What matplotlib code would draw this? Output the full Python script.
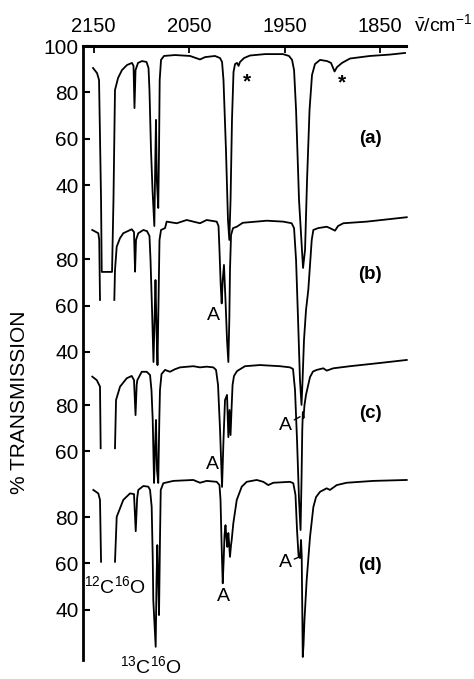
import numpy as np
import matplotlib
matplotlib.use('Agg')
import matplotlib.pyplot as plt

plt.rcParams['font.family'] = ['Liberation Sans', 'DejaVu Sans']
plt.rcParams['mathtext.fontset'] = 'custom'
plt.rcParams['mathtext.rm'] = 'Liberation Sans'
plt.rcParams['mathtext.it'] = 'Liberation Sans:italic'
plt.rcParams['mathtext.bf'] = 'Liberation Sans:bold'
plt.rcParams['mathtext.default'] = 'regular'

nan = float('nan')

# vertical offsets of the stacked traces (in % transmission units)
offsets = {'a': 0.0, 'b': 72.0, 'c': 135.0, 'd': 183.3}

# ---- trace (a) ----
wn_a = [2150.5, 2146.3, 2144.2, 2142.1, 2141.4, 2130.6, 2129.1, 2127.5, 2124.3, 2120.2,
        2114.9, 2109.7, 2108.1, 2107.1, 2106.0, 2103.4, 2099.2, 2094.5, 2092.4, 2091.4,
        2089.8, 2088.2, 2086.3, 2085.3, 2084.6, 2083.7, 2082.2, 2081.4, 2080.7, 2079.3,
        2076.2, 2064.7, 2048.9, 2042.7, 2038.5, 2033.2, 2022.8, 2017.5, 2015.4, 2013.9,
        2011.3, 2009.2, 2007.8, 2006.5, 2005.0, 2003.4, 2001.8, 1999.7, 1998.1, 1996.6,
        1992.4, 1986.1, 1970.4, 1951.6, 1945.3, 1942.1, 1940.0, 1937.9, 1934.8, 1930.6,
        1928.5, 1926.4, 1923.8, 1921.2, 1918.1, 1912.8, 1905.5, 1901.3, 1897.6, 1895.0,
        1889.8, 1881.4, 1860.5, 1839.5, 1823.8]
t_a = [90.5, 88.3, 85.3, 33.5, 2.5, 2.5, 33.5, 81.0, 86.2, 89.6,
       91.8, 92.7, 91.4, 73.2, 89.6, 92.7, 93.5, 93.1, 90.5, 81.0,
       55.1, 37.8, 22.3, 50.8, 68.1, 42.2, 30.1, 55.1, 85.3, 94.0,
       95.7, 96.1, 95.7, 94.8, 94.2, 95.2, 95.7, 94.8, 93.1, 85.3,
       55.1, 24.9, 16.3, 33.5, 68.1, 88.8, 92.2, 92.7, 91.4, 93.1,
       94.8, 95.9, 96.5, 96.5, 95.7, 94.0, 89.6, 72.4, 33.5, 4.2,
       12.0, 42.2, 72.4, 87.5, 92.2, 94.0, 93.5, 92.7, 89.0, 90.9,
       92.7, 94.6, 95.7, 96.3, 97.0]

# ---- trace (b) ----
wn_b = [2151.3, 2145.0, 2144.0, 2143.2, nan, 2128.2, 2127.5, 2125.7, 2122.2, 2118.8,
        2110.0, 2107.6, 2106.5, 2105.5, 2103.1, 2097.8, 2094.0, 2091.4, 2090.3, 2088.7,
        2087.2, 2086.1, 2085.1, 2084.0, 2083.0, 2081.9, 2080.9, 2079.3, 2075.1, 2073.4,
        2062.9, 2052.4, 2038.5, 2031.5, 2021.0, 2019.1, 2018.1, 2016.8, 2015.8, 2014.7,
        2013.4, 2011.8, 2010.2, 2008.8, 2007.8, 2007.1, 2006.0, 2003.9, 2000.0, 1993.7,
        1968.6, 1951.3, 1942.5, 1940.0, 1937.9, 1935.8, 1933.8, 1932.2, 1931.1, 1929.6,
        1927.5, 1925.1, 1923.3, 1921.5, 1919.8, 1914.9, 1905.8, 1902.4, 1897.1, 1894.0,
        1888.4, 1863.9, 1822.0]
t_b = [92.6, 91.2, 88.3, 62.4, nan, 62.4, 75.3, 85.4, 89.1, 91.2,
       92.9, 91.7, 74.6, 88.3, 91.2, 92.6, 92.1, 90.0, 79.6, 58.0,
       35.6, 53.7, 71.0, 49.4, 34.3, 62.4, 88.3, 92.6, 93.4, 96.2,
       95.5, 96.9, 95.5, 96.9, 96.2, 94.3, 84.0, 68.8, 60.9, 71.0,
       77.5, 62.4, 45.1, 35.6, 53.7, 75.3, 90.4, 93.4, 94.0, 95.7,
       96.6, 96.2, 95.5, 93.4, 79.6, 53.7, 27.8, 17.1, 27.8, 45.1,
       58.0, 66.7, 77.5, 88.3, 92.6, 93.4, 94.0, 93.4, 92.3, 94.3,
       95.5, 96.2, 98.1]

# ---- trace (c) ----
wn_c = [2151.3, 2146.6, 2143.2, 2142.5, nan, 2127.5, 2126.4, 2122.2, 2115.2, 2110.0,
        2107.6, 2106.0, 2104.8, 2104.1, 2099.5, 2094.3, 2090.8, 2089.3, 2088.0, 2086.6,
        2085.6, 2084.6, 2083.5, 2082.2, 2081.1, 2080.4, 2078.8, 2075.1, 2069.9, 2064.7,
        2059.4, 2045.5, 2038.5, 2031.5, 2024.5, 2021.7, 2019.6, 2017.5, 2015.4, 2013.9,
        2012.3, 2010.2, 2008.8, 2007.6, 2006.5, 2005.5, 2004.4, 2002.9, 1999.7, 1991.4,
        1975.7, 1954.7, 1944.2, 1941.1, 1939.0, 1936.9, 1934.8, 1933.2, 1932.2, 1931.4,
        1930.8, 1930.1, 1929.1, 1927.5, 1925.4, 1923.3, 1920.2, 1916.3, 1909.4, 1905.8,
        1898.9, 1881.4, 1850.0, 1822.0]
t_c = [92.3, 90.8, 88.0, 61.4, nan, 61.4, 82.2, 88.0, 91.6, 92.6,
       90.8, 75.7, 88.7, 90.8, 94.4, 94.4, 93.0, 86.5, 73.6, 46.4,
       60.6, 73.6, 52.0, 46.4, 73.6, 86.5, 93.4, 95.2, 94.4, 95.5,
       96.3, 96.8, 96.3, 96.6, 96.3, 95.2, 88.7, 69.3, 44.7, 64.9,
       82.2, 84.4, 66.2, 77.9, 67.1, 77.9, 88.7, 92.6, 94.7, 96.8,
       97.3, 96.8, 96.3, 95.6, 86.5, 64.9, 39.1, 26.1, 47.7, 69.3,
       77.0, 74.4, 80.0, 84.4, 88.3, 92.1, 94.5, 95.2, 95.9, 94.9,
       95.9, 96.8, 98.2, 99.5]

# ---- trace (d) ----
wn_d = [2150.2, 2145.0, 2143.2, 2142.1, nan, 2127.5, 2125.7, 2118.8, 2111.8, 2107.6,
        2105.8, 2104.3, 2103.1, 2097.8, 2092.6, 2090.8, 2089.1, 2088.0, 2087.4, 2084.9,
        2084.0, 2083.2, 2082.2, 2081.4, 2080.4, 2079.6, 2076.9, 2066.4, 2045.5, 2038.5,
        2031.5, 2021.0, 2018.1, 2017.0, 2016.0, 2014.7, 2013.7, 2012.8, 2011.8, 2010.9,
        2009.9, 2008.8, 2007.9, 2007.1, 2006.0, 2005.3, 2003.6, 2000.0, 1994.8, 1989.6,
        1979.1, 1972.2, 1967.0, 1961.7, 1944.2, 1940.8, 1938.5, 1936.9, 1935.3, 1933.8,
        1932.7, 1932.0, 1931.4, 1930.9, 1930.1, 1929.1, 1926.8, 1923.3, 1919.8, 1917.0,
        1912.8, 1905.8, 1902.4, 1895.3, 1884.9, 1857.0, 1822.0]
t_d = [91.7, 90.2, 87.4, 60.7, nan, 60.7, 80.1, 87.4, 90.2, 89.9,
       73.9, 88.2, 91.7, 93.4, 93.1, 91.7, 84.5, 62.8, 44.1, 24.0,
       52.8, 67.9, 52.8, 37.7, 70.1, 91.7, 94.6, 95.6, 96.0, 94.8,
       95.6, 95.2, 93.8, 87.4, 70.1, 51.4, 61.4, 72.2, 76.5, 71.4,
       67.1, 73.1, 67.9, 62.8, 67.9, 70.1, 77.3, 87.4, 93.1, 95.2,
       96.0, 95.2, 93.8, 94.8, 95.2, 94.6, 89.5, 74.4, 63.2, 62.3,
       70.1, 63.2, 39.9, 19.6, 24.8, 35.6, 52.8, 71.4, 84.3, 88.6,
       90.9, 92.4, 91.7, 93.8, 94.8, 95.6, 96.0]

traces = {'a': (wn_a, t_a), 'b': (wn_b, t_b), 'c': (wn_c, t_c), 'd': (wn_d, t_d)}

# tick labels of each trace
ticks_per_trace = {'a': [100, 80, 60, 40], 'b': [80, 60, 40], 'c': [80, 60], 'd': [80, 60, 40]}
top_ticks = [2150, 2050, 1950, 1850]

fig = plt.figure(figsize=(4.74, 6.79), dpi=100)
ax = fig.add_axes([83 / 474, 1 - 660 / 679, (405.8 - 83) / 474, (660 - 46) / 679])

for key, (wn, t) in traces.items():
    ax.plot(wn, np.array(t, dtype=float) - offsets[key], color='black', lw=1.3,
            clip_on=False)

ax.set_xlim(2161.0, 1823.0)
ax.set_ylim(-165, 100)

for s in ['bottom', 'right']:
    ax.spines[s].set_visible(False)
ax.spines['left'].set_linewidth(2.0)
ax.spines['top'].set_linewidth(2.2)

ax.xaxis.tick_top()
ax.set_xticks(top_ticks)
ax.set_xticklabels([str(v) for v in top_ticks])
ax.tick_params(axis='x', direction='in', length=5, width=1.3, labelsize=14.5, pad=7,
               top=True, bottom=False, labeltop=True, labelbottom=False)

ypos, ylabs = [], []
for key, vals in ticks_per_trace.items():
    for v in vals:
        ypos.append(v - offsets[key])
        ylabs.append(str(v))
ax.set_yticks(ypos)
ax.set_yticklabels(ylabs)
ax.tick_params(axis='y', direction='in', length=5, width=1.5, labelsize=15, pad=3)

fig.text(20 / 474, 1 - 402 / 679, '% TRANSMISSION', rotation=90, ha='center',
         va='center', fontsize=15)
fig.text(443 / 474, 1 - 24 / 679, r'$\bar{v}$/cm$^{-1}$', ha='center', va='center',
         fontsize=14)

# panel labels
panel_y = {'a': 60.2, 'b': 1.2, 'c': -58.5, 'd': -124.0}
for key, y in panel_y.items():
    ax.text(1860.5, y, '(%s)' % key, fontsize=13.5, fontweight='bold', ha='center',
            va='center')

# asterisks
ax.text(1989.6, 82.3, '*', fontsize=15, fontweight='bold', ha='center', va='baseline')
ax.text(1890.1, 81.9, '*', fontsize=15, fontweight='bold', ha='center', va='baseline')

# "A" labels
ax.text(2024.5, -16.1, 'A', fontsize=14, ha='center', va='center')
ax.text(2025.9, -80.8, 'A', fontsize=14, ha='center', va='center')
ax.text(2014.4, -137.8, 'A', fontsize=14, ha='center', va='center')
ax.annotate('A', xy=(1933.8, -60.0), xytext=(1949.5, -63.6), fontsize=14,
            ha='center', va='center',
            arrowprops=dict(arrowstyle='-', lw=1.0, shrinkA=0, shrinkB=0))
ax.annotate('A', xy=(1932.0, -120.1), xytext=(1949.5, -123.1), fontsize=14,
            ha='center', va='center',
            arrowprops=dict(arrowstyle='-', lw=1.0, shrinkA=0, shrinkB=0))

# isotope labels
ax.text(2127.5, -133.1, r'$^{12}$C$^{16}$O', fontsize=14, ha='center', va='center')
ax.text(2089.8, -167.6, r'$^{13}$C$^{16}$O', fontsize=14, ha='center', va='center',
        clip_on=False)

fig.savefig('out.png', dpi=100)
